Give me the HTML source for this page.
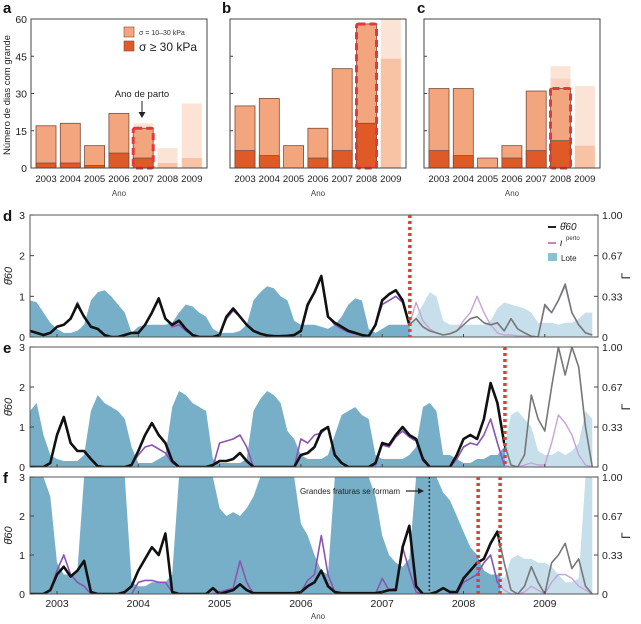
<!DOCTYPE html>
<html><head><meta charset="utf-8">
<style>
html,body{margin:0;padding:0;background:#fff;}
svg{display:block;font-family:"Liberation Sans",sans-serif;}
</style></head>
<body>
<svg id="fig" width="641" height="624" viewBox="0 0 641 624" xmlns="http://www.w3.org/2000/svg"></svg>
<script>
// ---------- Bar chart data (panels a, b, c) ----------
const barYears = ["2003","2004","2005","2006","2007","2008","2009"];
const aLight = [17,18,9,22,16,8,26];
const aDark  = [2,2,1,6,4,2,4];
const aKind  = ["n","n","n","n","d","f","f"];
const aGhost = [0,0,0,0,18,0,0];
const aGhost2= [0,0,0,0,0,0,0];
const bLight = [25,28,9,16,40,58,60];
const bDark  = [7,5,0,4,7,18,44];
const bKind  = ["n","n","n","n","n","d","f"];
const bGhost = [0,0,0,0,0,0,0];
const bGhost2= [0,0,0,0,0,0,0];
const cLight = [32,32,4,9,31,32,33];
const cDark  = [7,5,0,4,7,11,9];
const cKind  = ["n","n","n","n","n","d","f"];
const cGhost = [0,0,0,0,0,41,0];
const cGhost2= [0,0,0,0,0,36,0];
const barTicks = [0,15,30,45,60];

// ---------- Time series data (monthly, Sep 2002 .. Aug 2009) ----------
const tStart = 2002.667;
const yearTicks = [2003,2004,2005,2006,2007,2008,2009];
const leftTicks = [0,1,2,3];
const rightTickLabels = ["0","0.33","0.67","1.00"];
const dBlack = [0.15,0.1,0.05,0.1,
 0.25,0.3,0.45,0.8,0.5,0.25,0.2,0.05,0,0,0.05,0.1,
 0.1,0.3,0.6,0.95,0.45,0.3,0.4,0.2,0.05,0,0,0,
 0.05,0.5,0.7,0.5,0.3,0.15,0.08,0.04,0.02,0.02,0.03,0.05,
 0.15,0.8,1.1,1.5,0.5,0.35,0.25,0.15,0.1,0.05,0.02,0.3,
 0.9,1.05,1.15,0.9,0.3,0.45,0.25,0.15,0.1,0.05,0.08,0.15,
 0.3,0.45,0.5,0.35,0.3,0.35,0.15,0.45,0.2,0.1,0.02,0,
 0.8,0.6,0.9,1.3,0.6,0.3,0.1,0.05];
const dPurple = [0.15,0.1,0.05,0.1,
 0.25,0.3,0.45,0.85,0.5,0.25,0.2,0.05,0,0,0.05,0.1,
 0.1,0.3,0.6,0.9,0.45,0.25,0.3,0.15,0.05,0,0,0,
 0.05,0.45,0.65,0.5,0.3,0.15,0.08,0.04,0.02,0.02,0.03,0.05,
 0.15,0.75,1.1,1.45,0.5,0.3,0.2,0.12,0.08,0.04,0.02,0.3,
 0.8,0.9,1.0,0.85,0.3,0.85,0.4,0.2,0.1,0.05,0.08,0.15,
 0.4,0.6,1.0,0.6,0.3,0.1,0.05,0.05,0.03,0.02,0.02,0,
 0.75,0.6,0.9,1.25,0.6,0.3,0.1,0.05];
const dBlue = [0.9,0.85,0.6,0.35,
 0.2,0.1,0.1,0.15,0.3,0.9,1.1,1.15,1.0,0.8,0.6,0.1,
 0.25,0.3,0.3,0.3,0.3,0.35,0.6,0.8,0.75,0.6,0.5,0.2,
 0.1,0.1,0.1,0.15,0.3,0.9,1.1,1.25,1.2,1.0,0.9,0.4,
 0.3,0.3,0.3,0.25,0.2,0.3,0.5,0.8,0.95,0.9,0.2,0.1,
 0.2,0.3,0.3,0.3,0.3,0.5,0.8,1.1,1.0,0.4,0.3,0.3,
 0.3,0.3,0.3,0.3,0.4,0.7,0.85,0.8,0.75,0.7,0.6,0.35,
 0.35,0.35,0.3,0.35,0.35,0.45,0.6,0.6];
const eBlack = [0,0,0,0.1,
 0.8,1.25,0.6,0.4,0.4,0.2,0.02,0,0,0,0,0.05,
 0.4,0.8,1.1,0.8,0.6,0.15,0,0,0,0,0,0.05,
 0.15,0.15,0.2,0.35,0.15,0,0,0,0,0,0,0,
 0.3,0.35,0.5,0.9,1.0,0.3,0.1,0,0,0,0,0.1,
 0.6,0.55,0.8,1.0,0.8,0.7,0.2,0,0,0,0,0.3,
 0.7,0.8,0.7,1.2,2.1,1.6,0.6,0.05,0,0.3,1.8,1.2,
 0.9,2.0,3.0,2.3,3.0,2.5,1.0,0];
const ePurple = [0,0,0,0.1,
 0.8,1.2,0.6,0.4,0.4,0.2,0.02,0,0,0,0,0.05,
 0.3,0.5,0.55,0.45,0.35,0.1,0,0,0,0,0,0,
 0.6,0.65,0.7,0.8,0.5,0,0,0,0,0,0,0,
 0.7,0.6,0.8,0.85,1.0,0.3,0.1,0,0,0,0,0.05,
 0.55,0.5,0.75,0.9,0.75,0.65,0.15,0,0,0,0,0.2,
 0.5,0.6,0.55,0.8,1.2,0.6,0.05,0,0,0.05,0.1,0.05,
 0.05,0.6,1.3,1.1,0.8,0.3,0.05,0];
const eBlue = [1.4,1.6,0.8,0.3,
 0.2,0.15,0.15,0.15,0.3,1.4,1.8,1.6,1.5,1.4,1.2,0.5,
 0.1,0.1,0.1,0.2,0.3,1.5,1.9,1.8,1.6,1.5,1.4,0.2,
 0.1,0.1,0.1,0.1,0.2,1.4,1.7,1.9,1.8,1.6,0.9,0.7,
 0.3,0.2,0.2,0.2,0.3,0.8,1.3,1.4,1.5,1.3,1.2,0.3,
 0.2,0.2,0.2,0.2,0.3,0.5,1.5,1.6,1.4,0.3,0.3,0.2,
 0.1,0.1,0.2,0.2,0.3,0.3,0.5,1.3,1.4,1.2,1.0,0.4,
 0.3,0.3,0.4,0.3,0.4,0.6,1.4,1.2];
const fBlack = [0,0,0,0.1,
 0.5,0.7,0.45,0.6,0.85,0.05,0,0,0,0,0.05,0.2,
 0.6,0.9,1.2,1.0,1.55,0.05,0,0,0,0,0,0.15,
 0,0.05,0.1,0.25,0.1,0.02,0.02,0.02,0.02,0.02,0.02,0.02,
 0.05,0.2,0.3,0.6,0.2,0.05,0.02,0.02,0.02,0.02,0.02,0.02,
 0.05,0.1,0.1,1.2,1.75,0.2,0,0,0.05,0.15,0.05,0.05,
 0.4,0.6,0.8,0.9,1.3,1.6,0.8,0.1,0,0.2,0.7,0.3,
 0,0.8,1.0,1.3,0.65,0.9,0.2,0];
const fPurple = [0,0,0,0.1,
 0.6,1.0,0.5,0.3,0.2,0,0,0,0,0,0,0,
 0.3,0.35,0.35,0.3,0.3,0.05,0,0,0,0,0,0,
 0.05,0.1,0.15,0.85,0.3,0,0,0,0,0,0,0,
 0.05,0.35,0.5,1.5,0.5,0.05,0,0,0,0,0,0,
 0.4,0.1,0.15,1.2,0.6,0.05,0,0,0,0,0,0,
 0.3,0.4,0.5,0.8,1.0,0.3,0.1,0,0,0.05,0.2,0.1,
 0,0.3,0.5,0.5,0.4,0.2,0.1,0];
const fBlue = [3,3,3,2.5,
 0.8,0.5,0.5,0.6,3,3,3,3,3,3,3,0.3,
 0.2,0.2,0.3,0.3,0.3,0.5,3,3,3,3,3,3,
 2.2,2.0,2.1,2.0,2.2,2.5,3,3,3,3,3,3,
 1.8,1.5,1.0,0.6,0.5,3,3,3,3,3,3,2.5,
 1.5,1.0,0.8,0.7,0.9,3,3,3,3,2.6,2.4,2.0,
 1.6,1.2,1.0,0.6,0.5,0.5,0.4,0.9,1.0,0.9,0.9,0.8,
 0.8,0.7,0.5,0.3,0.3,0.4,3,3];
const dCut = 2007.34, eCut = 2008.51, fCut = 2008.45;
const fRed1 = 2008.18, fDotted = 2007.58;

// ---------- helpers ----------
const NS = "http://www.w3.org/2000/svg";
const svg = document.getElementById("fig");
function mk(tag, attrs, parent, txt){
  const e = document.createElementNS(NS, tag);
  for (const k in attrs) e.setAttribute(k, attrs[k]);
  if (txt !== undefined) e.textContent = txt;
  (parent || svg).appendChild(e);
  return e;
}

// ---------- bar panels ----------
const barTop = 19, barBot = 168, barW = 176;
function barPanel(x0, letter, labelX, light, dark, kind, ghost, ghost2, showLabels){
  const g = mk("g", {});
  
  
  const yS = v => barBot - v / 60 * (barBot - barTop);
  const pitch = 24.3, bw = 20;
  const cx = i => x0 + 15 + i * pitch;
  const lab = mk("text", {x: labelX, y: 13, "font-size": 15, "font-weight": "bold", fill: "#111"}, g, letter);
  
  
  barYears.forEach((yr, i) => {
    const x = cx(i) - bw / 2;
    if (ghost[i] > 0) {
      const r = mk("rect", {x: x, y: yS(ghost[i]), width: bw, height: yS(0) - yS(ghost[i]), fill: "#fbe3d6"}, g);
      
      
    }
    if (ghost2[i] > 0) {
      const r = mk("rect", {x: x, y: yS(ghost2[i]), width: bw, height: yS(0) - yS(ghost2[i]), fill: "#f9d3bf"}, g);
      
      
    }
    const faded = kind[i] === "f";
    const lt = mk("rect", {x: x, y: yS(light[i]), width: bw, height: yS(0) - yS(light[i]),
      fill: faded ? "#fbe3d6" : "#f3a57e", stroke: faded ? "none" : "#7d4a36", "stroke-width": 0.8}, g);
    
    
    if (dark[i] > 0) {
      const dk = mk("rect", {x: x, y: yS(dark[i]), width: bw, height: yS(0) - yS(dark[i]),
        fill: faded ? "#f8c3a5" : "#df5a27", stroke: faded ? "none" : "#7d4a36", "stroke-width": 0.8}, g);
      
      
    }
    if (kind[i] === "d") {
      const o = mk("rect", {x: x, y: yS(light[i]), width: bw, height: yS(0) - yS(light[i]), fill: "none",
        stroke: "#e3393b", "stroke-width": 3, "stroke-dasharray": "7,4", rx: 2}, g);
      
      
    }
    const t = mk("text", {x: cx(i), y: 182, "font-size": 9.6, "text-anchor": "middle", fill: "#222"}, g, yr);
    
    
  });
  const fr = mk("rect", {x: x0, y: barTop, width: barW, height: barBot - barTop, fill: "none", stroke: "#444", "stroke-width": 1}, g);
  
  
  barTicks.forEach(v => {
    mk("line", {x1: x0, x2: x0 + 3, y1: yS(v), y2: yS(v), stroke: "#444"}, g);
    if (showLabels) {
      const t = mk("text", {x: x0 - 4, y: yS(v) + 4, "font-size": 10.5, "text-anchor": "end", fill: "#222"}, g, String(v));
      
      
    }
  });
  const ax = mk("text", {x: x0 + barW / 2, y: 196, "font-size": 8, "text-anchor": "middle", fill: "#444"}, g, "Ano");
  
  
}
barPanel(31, "a", 3, aLight, aDark, aKind, aGhost, aGhost2, true);
barPanel(230, "b", 222, bLight, bDark, bKind, bGhost, bGhost2, false);
barPanel(424, "c", 417, cLight, cDark, cKind, cGhost, cGhost2, false);

const yt = mk("text", {x: 10, y: 95, "font-size": 9.5, "text-anchor": "middle", fill: "#222", transform: "rotate(-90 10 95)"}, svg, "Número de dias com grande");



// legend for panel a
const lg = mk("g", {});


mk("rect", {x: 124, y: 27, width: 10, height: 10, fill: "#f3a57e", stroke: "#7d4a36", "stroke-width": 0.6}, lg);
mk("text", {x: 139, y: 35, "font-size": 7, fill: "#333"}, lg, "σ = 10–30 kPa");
mk("rect", {x: 124, y: 41, width: 10, height: 10, fill: "#df5a27", stroke: "#7d4a36", "stroke-width": 0.6}, lg);
mk("text", {x: 139, y: 51, "font-size": 12, fill: "#222"}, lg, "σ ≥ 30 kPa");
const ann = mk("text", {x: 142, y: 97, "font-size": 9.5, "text-anchor": "middle", fill: "#222"}, svg, "Ano de parto");


mk("line", {x1: 142, x2: 142, y1: 101, y2: 114, stroke: "#222", "stroke-width": 1});
mk("path", {d: "M138.5,112 L142,118 L145.5,112 Z", fill: "#222"});

// ---------- time series panels ----------
const X0 = 30, X1 = 598;
const xT = t => 57 + (t - 2003) * 81.3;
let clipId = 0;
function tsPanel(top, bot, letter, black, purple, blue, cut, showYears){
  const g = mk("g", {});
  
  
  const yV = v => bot - Math.min(v, 3.05) / 3 * (bot - top);
  const xc = xT(cut);
  const defs = mk("defs", {}, g);
  const idA = "clpA" + (clipId), idB = "clpB" + (clipId++);
  const cpA = mk("clipPath", {id: idA}, defs); mk("rect", {x: X0, y: top, width: xc - X0, height: bot - top}, cpA);
  const cpB = mk("clipPath", {id: idB}, defs); mk("rect", {x: xc, y: top, width: X1 - xc, height: bot - top}, cpB);
  const tOf = i => tStart + i / 12;
  let ad = "M" + xT(tOf(0)) + "," + bot;
  blue.forEach((v, i) => { ad += " L" + xT(tOf(i)).toFixed(1) + "," + yV(v).toFixed(1); });
  ad += " L" + xT(tOf(blue.length - 1)).toFixed(1) + "," + bot + " Z";
  const b1 = mk("path", {d: ad, fill: "#78afc8", "clip-path": "url(#" + idA + ")"}, g);
  
  
  const b2 = mk("path", {d: ad, fill: "#c6dfea", "clip-path": "url(#" + idB + ")"}, g);
  
  
  const lineD = arr => arr.map((v, i) => (i ? "L" : "M") + xT(tOf(i)).toFixed(1) + "," + yV(v).toFixed(1)).join(" ");
  const pd = lineD(purple), kd = lineD(black);
  const p1 = mk("path", {d: pd, fill: "none", stroke: "#8a55b0", "stroke-width": 1.6, "clip-path": "url(#" + idA + ")", "stroke-linejoin": "round"}, g);
  
  
  const p2 = mk("path", {d: pd, fill: "none", stroke: "#c8a2d8", "stroke-width": 1.4, "clip-path": "url(#" + idB + ")", "stroke-linejoin": "round"}, g);
  
  
  const k2 = mk("path", {d: kd, fill: "none", stroke: "#777", "stroke-width": 1.6, "clip-path": "url(#" + idB + ")", "stroke-linejoin": "round"}, g);
  
  
  const k1 = mk("path", {d: kd, fill: "none", stroke: "#111", "stroke-width": 2.6, "clip-path": "url(#" + idA + ")", "stroke-linejoin": "round"}, g);
  
  
  const fr = mk("rect", {x: X0, y: top, width: X1 - X0, height: bot - top, fill: "none", stroke: "#555", "stroke-width": 1}, g);
  
  
  leftTicks.forEach(v => {
    mk("line", {x1: X0, x2: X0 + 4, y1: yV(v), y2: yV(v), stroke: "#444"}, g);
    const t = mk("text", {x: X0 - 5, y: yV(v) + 4, "font-size": 10.5, "text-anchor": "end", fill: "#222"}, g, String(v));
    
    
  });
  rightTickLabels.forEach((s, i) => {
    const y = bot - i / 3 * (bot - top);
    mk("line", {x1: X1 - 4, x2: X1, y1: y, y2: y, stroke: "#444"}, g);
    const t = mk("text", {x: X1 + 4, y: y + 4, "font-size": 10.5, fill: "#222"}, g, s);
    
    
  });
  yearTicks.forEach(yr => {
    mk("line", {x1: xT(yr), x2: xT(yr), y1: bot, y2: bot - 3, stroke: "#444"}, g);
    if (showYears) {
      const t = mk("text", {x: xT(yr), y: bot + 13, "font-size": 10.5, "text-anchor": "middle", fill: "#222"}, g, String(yr));
      
      
    }
  });
  const pl = mk("text", {x: 3, y: top + 6, "font-size": 15, "font-weight": "bold", fill: "#111"}, g, letter);
  
  
  const cy = (top + bot) / 2;
  const yl = mk("text", {x: 12, y: cy, "font-size": 11, "font-style": "italic", "text-anchor": "middle", fill: "#222", transform: "rotate(-90 12 " + cy + ")"}, g, "θ̂60");
  
  
  const rl = mk("text", {x: 630, y: cy, "font-size": 12, "text-anchor": "middle", fill: "#222", transform: "rotate(-90 630 " + cy + ")"}, g, "Γ");
  
  
  const rd = mk("line", {x1: xc, x2: xc, y1: top, y2: bot, stroke: "#e8383a", "stroke-width": 3.5, "stroke-dasharray": "3,3"}, g);
  
  
}
tsPanel(215, 337, "d", dBlack, dPurple, dBlue, dCut, false);
tsPanel(347, 467, "e", eBlack, ePurple, eBlue, eCut, false);
tsPanel(477, 594, "f", fBlack, fPurple, fBlue, fCut, true);

// extra markers in f
const r1 = mk("line", {x1: xT(fRed1), x2: xT(fRed1), y1: 477, y2: 594, stroke: "#e8383a", "stroke-width": 3.5, "stroke-dasharray": "3,3"});


const dl = mk("line", {x1: xT(fDotted), x2: xT(fDotted), y1: 477, y2: 594, stroke: "#333", "stroke-width": 1.5, "stroke-dasharray": "2,2"});


const ft = mk("text", {x: 400, y: 494, "font-size": 8, "text-anchor": "end", fill: "#222"}, svg, "Grandes fraturas se formam");


mk("line", {x1: 406, x2: 420, y1: 491, y2: 491, stroke: "#222", "stroke-width": 1.2});
mk("path", {d: "M418,488 L424,491 L418,494 Z", fill: "#222"});
const ano = mk("text", {x: 318, y: 619, "font-size": 8, "text-anchor": "middle", fill: "#444"}, svg, "Ano");



// legend in d
const ld = mk("g", {});


mk("line", {x1: 548, x2: 556, y1: 227, y2: 227, stroke: "#222", "stroke-width": 2}, ld);
mk("text", {x: 560, y: 230, "font-size": 10, "font-style": "italic", fill: "#222"}, ld, "θ̂60");
mk("line", {x1: 548, x2: 556, y1: 243, y2: 243, stroke: "#c48ab9", "stroke-width": 2}, ld);
mk("text", {x: 560, y: 246, "font-size": 10, "font-style": "italic", fill: "#222"}, ld, "ι");
mk("text", {x: 566, y: 240, "font-size": 6, fill: "#333"}, ld, "perto");
mk("rect", {x: 548, y: 253, width: 9, height: 8, fill: "#8fbdd3"}, ld);
mk("text", {x: 561, y: 261, "font-size": 8, fill: "#222"}, ld, "Lote");
</script>
</body></html>
